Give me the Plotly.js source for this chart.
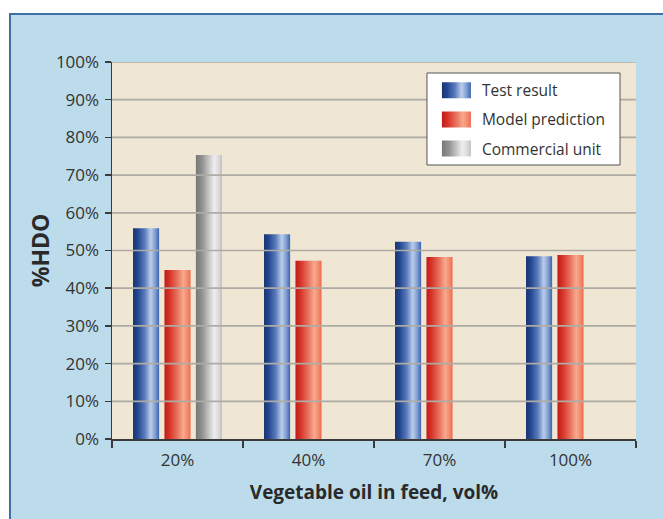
<!DOCTYPE html>
<html>
<head>
<meta charset="utf-8">
<script src="https://cdn.plot.ly/plotly-3.0.1.min.js"></script>
<style>
  html, body { margin:0; padding:0; background:#ffffff; width:663px; height:519px; overflow:hidden; }
  #frame { position:absolute; left:9px; top:13px; width:700px; height:600px; background:#bcdcec; border:2px solid #3f6ea8; box-sizing:border-box; }
  #chart { position:absolute; left:0; top:0; width:663px; height:519px; }
</style>
</head>
<body>
<div id="frame"></div>
<div id="chart"></div>
<script>
// ---- data ----
const categories = ['20%', '40%', '70%', '100%'];
const testResult = [0.559, 0.543, 0.523, 0.485];
const modelPrediction = [0.448, 0.473, 0.483, 0.488];
const commercialUnit = [0.753, null, null, null];
const seriesNames = ['Test result', 'Model prediction', 'Commercial unit'];
const yTickVals = [0, 0.1, 0.2, 0.3, 0.4, 0.5, 0.6, 0.7, 0.8, 0.9, 1.0];
const yTickText = ['0%', '10%', '20%', '30%', '40%', '50%', '60%', '70%', '80%', '90%', '100%'];

// ---- styles ----
const FONT = '"Open Sans", "Noto Sans", sans-serif';
const baseColors = ['#4568ad', '#e8604a', '#b5b5b5'];
const gradStops = [
  [[0, '#1a3570'], [0.18, '#244690'], [0.45, '#5a7cbc'], [0.68, '#bccdeb'], [0.85, '#809ed2'], [1, '#3d63ae']],
  [[0, '#c21a1a'], [0.2, '#d6342a'], [0.5, '#e8745e'], [0.72, '#f7a98e'], [0.88, '#f38b6e'], [1, '#ec6a4e']],
  [[0, '#777777'], [0.25, '#939393'], [0.5, '#c6c6c6'], [0.7, '#eeeeee'], [0.86, '#dcdcdc'], [1, '#c0c0c0']]
];

const seriesValues = [testResult, modelPrediction, commercialUnit];
const data = seriesValues.map((vals, i) => ({
  type: 'bar',
  x: categories,
  y: vals,
  name: seriesNames[i],
  legendgroup: 'g' + i,
  marker: { color: baseColors[i], line: { width: 0 } },
  hoverinfo: 'x+y+name'
}));

const gridShapes = yTickVals.filter(v => v > 0).map(v => ({
  type: 'line', xref: 'paper', yref: 'y', x0: 0, x1: 1, y0: v, y1: v,
  line: { color: '#aeaba5', width: 1.7 }, layer: 'above'
}));

const legendBox = {
  type: 'rect', xref: 'paper', yref: 'paper',
  x0: 0.6011, x1: 0.9695, y0: 0.7268, y1: 0.9708,
  fillcolor: '#ffffff', line: { color: '#555555', width: 1 }, layer: 'above'
};

const layout = {
  width: 663, height: 519,
  margin: { l: 112, r: 27, t: 62, b: 80 },
  paper_bgcolor: 'rgba(0,0,0,0)',
  plot_bgcolor: '#efe6d3',
  font: { family: FONT, color: '#333333', size: 17 },
  barmode: 'group',
  bargap: 0.28,
  bargroupgap: 0.17,
  showlegend: true,
  legend: {
    x: 0.601, y: 0.969, xanchor: 'left', yanchor: 'top',
    bgcolor: 'rgba(0,0,0,0)', borderwidth: 0,
    font: { family: FONT, size: 15.5, color: '#333333' },
    traceorder: 'grouped', tracegroupgap: 6, itemwidth: 45
  },
  xaxis: {
    type: 'category',
    range: [-0.5, 3.5],
    showgrid: false,
    showline: true, linecolor: '#3a3a3a', linewidth: 1.5,
    ticks: 'outside', tickson: 'boundaries', ticklen: 7, tickcolor: '#3a3a3a', tickwidth: 1.5,
    tickfont: { family: FONT, size: 17, color: '#333333' },
    ticklabelstandoff: 5,
    title: { text: 'Vegetable oil in feed, vol%', font: { family: FONT, size: 19, color: '#2a2a2a', weight: 'bold' }, standoff: 16 },
    automargin: false,
    fixedrange: true
  },
  yaxis: {
    range: [0, 1],
    tickvals: yTickVals, ticktext: yTickText,
    showgrid: false, zeroline: false,
    showline: true, linecolor: '#3a3a3a', linewidth: 1.5,
    ticks: 'outside', ticklen: 6, tickcolor: '#3a3a3a', tickwidth: 1.5,
    tickfont: { family: FONT, size: 17, color: '#333333' },
    ticklabelstandoff: 2,
    title: { text: '%HDO', font: { family: FONT, size: 23, color: '#2a2a2a', weight: 'bold' }, standoff: 0 },
    automargin: false,
    fixedrange: true
  },
  shapes: gridShapes.concat([legendBox])
};

function applyGradients(gd) {
  const ns = 'http://www.w3.org/2000/svg';
  const svg = gd.querySelector('.main-svg');
  let defs = svg.querySelector('defs');
  if (!defs) { defs = document.createElementNS(ns, 'defs'); svg.insertBefore(defs, svg.firstChild); }
  gradStops.forEach((stops, i) => {
    const lg = document.createElementNS(ns, 'linearGradient');
    lg.setAttribute('id', 'barGrad' + i);
    lg.setAttribute('x1', '0'); lg.setAttribute('y1', '0');
    lg.setAttribute('x2', '1'); lg.setAttribute('y2', '0');
    stops.forEach(s => {
      const st = document.createElementNS(ns, 'stop');
      st.setAttribute('offset', s[0]);
      st.setAttribute('stop-color', s[1]);
      lg.appendChild(st);
    });
    defs.appendChild(lg);
  });
  gd.querySelectorAll('.barlayer .trace').forEach((t, i) => {
    t.querySelectorAll('path').forEach(p => { p.style.fill = 'url(#barGrad' + i + ')'; });
  });
  gd.querySelectorAll('.legend .traces').forEach((t, i) => {
    const p = t.querySelector('.legendpoints path');
    if (p) {
      p.style.fill = 'url(#barGrad' + i + ')';
      p.setAttribute('d', 'M16.5,8H-12.5V-8H16.5Z');
    }
  });
}

Plotly.newPlot('chart', data, layout, { displayModeBar: false, staticPlot: true }).then(applyGradients);
</script>
</body>
</html>
